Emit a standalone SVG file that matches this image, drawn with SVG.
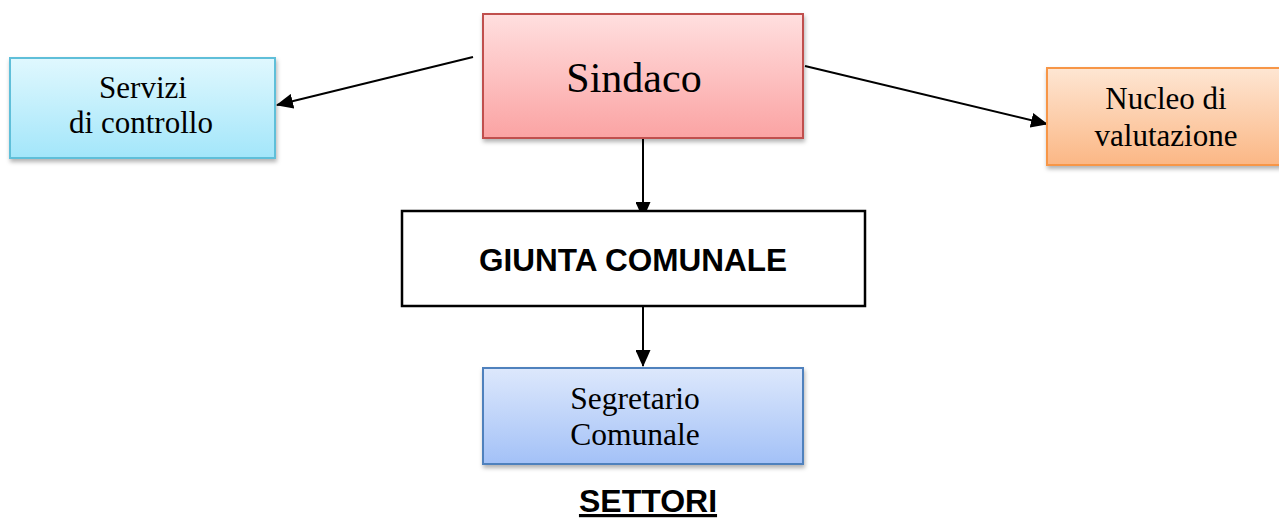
<svg xmlns="http://www.w3.org/2000/svg" width="1279" height="519" viewBox="0 0 1279 519">
<defs>
<linearGradient id="gBlue" x1="0" y1="0" x2="0" y2="1"><stop offset="0" stop-color="#e0f8fe"/><stop offset="1" stop-color="#a3e6fa"/></linearGradient>
<linearGradient id="gRed" x1="0" y1="0" x2="0" y2="1"><stop offset="0" stop-color="#ffdfdf"/><stop offset="1" stop-color="#fba3a3"/></linearGradient>
<linearGradient id="gOrange" x1="0" y1="0" x2="0" y2="1"><stop offset="0" stop-color="#fee6d3"/><stop offset="1" stop-color="#fbb785"/></linearGradient>
<linearGradient id="gSeg" x1="0" y1="0" x2="0" y2="1"><stop offset="0" stop-color="#dde8fc"/><stop offset="1" stop-color="#a3c1f7"/></linearGradient>
<filter id="sh" x="-10%" y="-10%" width="120%" height="130%"><feDropShadow dx="1" dy="3" stdDeviation="2" flood-color="#000" flood-opacity="0.3"/></filter>
<marker id="arrL" markerWidth="17" markerHeight="15" refX="16" refY="7.5" orient="auto" markerUnits="userSpaceOnUse" viewBox="0 0 17 15"><path d="M0,0 L17,7.5 L0,15 z" fill="#000"/></marker>
</defs>
<style>
.serif{font-family:"Liberation Serif","Times New Roman",serif;fill:#000;text-anchor:middle}
.bold{font-family:"Liberation Sans",Arial,sans-serif;font-weight:bold;fill:#000;text-anchor:middle}
.conn{stroke:#000;stroke-width:2;fill:none;marker-end:url(#arrL)}
</style>
<rect width="1279" height="519" fill="#fff"/>
<g id="connectors">
<line class="conn" x1="473" y1="57" x2="277" y2="105"/>
<line class="conn" x1="805" y1="66" x2="1047" y2="124"/>
<line class="conn" x1="643" y1="139" x2="643" y2="218"/>
<line class="conn" x1="643" y1="307" x2="643" y2="366"/>
</g>
<g id="servizi">
<rect x="10" y="58" width="265" height="100" fill="url(#gBlue)" stroke="#5fbfd9" stroke-width="2" filter="url(#sh)"/>
<text class="serif" x="143" y="98" font-size="31">Servizi</text>
<text class="serif" x="141" y="133" font-size="31">di controllo</text>
</g>
<g id="sindaco">
<rect x="483" y="14" width="320" height="124" fill="url(#gRed)" stroke="#c0504d" stroke-width="2" filter="url(#sh)"/>
<text class="serif" x="634" y="92" font-size="42">Sindaco</text>
</g>
<g id="nucleo">
<rect x="1047" y="68" width="240" height="97" fill="url(#gOrange)" stroke="#f79646" stroke-width="2" filter="url(#sh)"/>
<text class="serif" x="1166" y="109" font-size="31">Nucleo di</text>
<text class="serif" x="1166" y="146" font-size="31">valutazione</text>
</g>
<g id="giunta">
<rect x="402" y="211" width="463" height="95" fill="#fff" stroke="#000" stroke-width="2.5"/>
<text class="bold" x="633" y="271" font-size="31.5">GIUNTA COMUNALE</text>
</g>
<g id="segretario">
<rect x="483" y="368" width="320" height="96" fill="url(#gSeg)" stroke="#4f81bd" stroke-width="2" filter="url(#sh)"/>
<text class="serif" x="635" y="409" font-size="31.5">Segretario</text>
<text class="serif" x="635" y="445" font-size="31.5">Comunale</text>
</g>
<g id="settori">
<text class="bold" x="648" y="512" font-size="32" text-decoration="underline">SETTORI</text>
</g>
</svg>
